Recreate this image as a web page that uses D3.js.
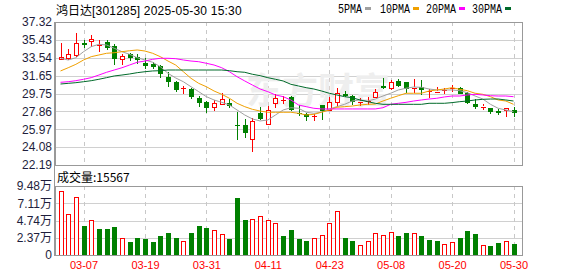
<!DOCTYPE html>
<html>
<head>
<meta charset="utf-8">
<script src="https://cdn.jsdelivr.net/npm/d3@7"></script>
<style>
  body { margin: 0; background: #fff; }
  svg { display: block; }
</style>
</head>
<body>
<div id="chart"></div>
<script>
// data
const dates = ['03-04','03-05','03-06','03-07','03-10','03-11','03-12','03-13','03-14','03-17',
               '03-18','03-19','03-20','03-21','03-24','03-25','03-26','03-27','03-28','03-31',
               '04-01','04-02','04-03','04-07','04-08','04-09','04-10','04-11','04-14','04-15',
               '04-16','04-17','04-18','04-21','04-22','04-23','04-24','04-25','04-28','04-29',
               '04-30','05-06','05-07','05-08','05-09','05-12','05-13','05-14','05-15','05-16',
               '05-19','05-20','05-21','05-22','05-23','05-26','05-27','05-28','05-29','05-30'];

const open = [33.44, 33.44, 33.83, 35.10, 35.28, 34.85, 35.24, 34.81, 33.44, 33.93,
              33.65, 33.01, 32.88, 32.63, 31.53, 30.94, 30.26, 30.23, 29.31, 28.86,
              28.30, 28.61, 28.72, 26.45, 26.42, 25.01, 27.72, 26.53, 28.68, 29.04,
              29.42, 27.77, 27.55, 27.34, 28.51, 28.08, 28.82, 29.67, 29.49, 28.87,
              28.89, 29.42, 30.55, 30.31, 31.08, 30.94, 30.34, 30.41, 29.99, 29.91,
              30.09, 30.26, 30.37, 29.78, 28.64, 28.33, 28.19, 27.90, 27.98, 27.98];
const high = [35.07, 34.46, 36.12, 35.42, 35.94, 35.42, 35.42, 34.99, 33.90, 34.01,
              33.93, 33.48, 33.06, 32.77, 32.06, 31.08, 30.55, 30.31, 29.49, 28.96,
              29.07, 29.78, 29.17, 27.83, 27.06, 27.13, 28.36, 28.43, 29.67, 29.52,
              29.49, 28.54, 27.66, 27.55, 28.54, 29.42, 30.31, 30.02, 29.60, 29.31,
              29.35, 30.20, 31.43, 31.18, 31.29, 31.00, 31.29, 31.18, 30.20, 30.47,
              30.37, 30.65, 30.41, 29.95, 29.17, 28.61, 28.22, 28.12, 28.19, 28.36];
const low = [33.41, 33.33, 33.65, 34.54, 34.71, 34.18, 34.36, 32.77, 32.77, 33.23,
             32.84, 32.38, 32.38, 31.36, 30.47, 29.95, 29.67, 29.17, 28.36, 27.72,
             27.90, 28.51, 28.19, 24.84, 25.05, 23.53, 26.95, 26.42, 28.25, 28.61,
             27.90, 27.41, 26.88, 26.88, 26.95, 28.01, 28.36, 29.42, 28.54, 28.47,
             28.54, 29.31, 30.20, 30.13, 30.41, 29.78, 29.78, 29.60, 29.25, 29.78,
             29.70, 29.95, 29.67, 28.61, 28.12, 28.01, 27.55, 27.48, 27.30, 27.30];
const close = [33.62, 33.90, 35.07, 34.92, 35.52, 34.92, 34.60, 33.48, 33.72, 33.54,
               33.30, 32.70, 32.56, 31.82, 31.00, 30.05, 30.34, 29.35, 28.82, 28.19,
               28.75, 29.14, 28.43, 26.39, 25.61, 26.88, 27.06, 28.01, 29.25, 29.10,
               28.01, 27.69, 27.24, 27.41, 27.83, 28.89, 29.78, 29.49, 28.82, 28.93,
               28.96, 29.95, 30.31, 30.94, 30.55, 30.16, 30.41, 30.05, 30.03, 29.99,
               30.16, 30.34, 29.78, 28.68, 28.36, 28.40, 27.74, 27.70, 28.19, 27.66];
// volume in 万手
const volume = [8.79, 5.59, 7.97, 3.98, 4.76, 3.57, 3.57, 3.85, 2.29, 1.79,
                2.34, 2.20, 1.79, 2.61, 3.02, 2.34, 1.88, 3.02, 3.98, 3.71,
                3.39, 2.84, 2.20, 7.83, 4.81, 4.90, 5.31, 4.76, 4.40, 2.61,
                3.39, 2.20, 1.92, 2.29, 2.70, 4.35, 6.00, 2.34, 1.92, 1.33,
                1.88, 2.98, 2.70, 3.12, 2.61, 3.02, 2.98, 2.61, 2.06, 1.92,
                1.47, 1.74, 2.34, 3.30, 2.88, 1.33, 1.24, 1.65, 1.88, 1.5567];

const ma5 = [33.48, 33.30, 33.54, 34.18, 34.71, 34.96, 34.89, 34.54, 34.18, 33.90,
             33.54, 33.30, 33.06, 32.59, 31.89, 31.40, 31.00, 30.47, 29.95, 29.42,
             29.07, 28.82, 28.54, 28.01, 27.48, 27.06, 26.85, 26.95, 27.48, 28.01,
             28.25, 28.19, 27.77, 27.66, 27.77, 28.12, 28.36, 28.61, 28.96, 29.07,
             28.96, 29.17, 29.49, 29.78, 30.13, 30.31, 30.44, 30.41, 30.23, 30.13,
             30.13, 30.13, 30.05, 29.84, 29.49, 29.17, 28.61, 28.19, 28.01, 27.83];
const ma10 = [32.14, 32.48, 32.84, 33.30, 33.65, 33.83, 34.01, 34.07, 34.18, 34.28,
              34.36, 34.25, 34.01, 33.65, 33.19, 32.77, 32.06, 31.36, 30.83, 30.47,
              30.02, 29.67, 29.25, 28.72, 28.36, 28.08, 27.90, 27.77, 27.77, 27.77,
              27.77, 27.66, 27.48, 27.55, 27.77, 28.01, 28.30, 28.36, 28.43, 28.54,
              28.61, 28.64, 28.96, 29.25, 29.52, 29.78, 29.78, 29.78, 30.02, 30.13,
              30.23, 30.37, 30.20, 30.05, 29.78, 29.67, 29.42, 29.07, 28.96, 28.61];
const ma20 = [30.94, 31.00, 31.11, 31.26, 31.43, 31.71, 32.00, 32.24, 32.48, 32.77,
              33.06, 33.19, 33.37, 33.48, 33.48, 33.44, 33.30, 33.19, 33.12, 32.95,
              32.77, 32.48, 32.06, 31.53, 31.08, 30.65, 30.23, 29.95, 29.60, 29.42,
              29.07, 28.54, 28.36, 28.19, 28.12, 28.12, 28.12, 28.12, 28.12, 28.12,
              28.12, 28.12, 28.25, 28.61, 28.72, 28.82, 28.96, 29.07, 29.17, 29.25,
              29.39, 29.49, 29.49, 29.60, 29.67, 29.60, 29.52, 29.49, 29.49, 29.42];
const ma30 = [30.76, 30.83, 30.90, 31.00, 31.11, 31.26, 31.43, 31.61, 31.71, 31.82,
              31.96, 32.06, 32.14, 32.17, 32.24, 32.24, 32.24, 32.24, 32.24, 32.24,
              32.24, 32.24, 32.17, 32.06, 32.00, 31.79, 31.64, 31.43, 31.26, 31.08,
              30.73, 30.55, 30.37, 30.23, 30.02, 29.78, 29.60, 29.42, 29.31, 29.07,
              28.89, 28.72, 28.61, 28.61, 28.61, 28.61, 28.61, 28.61, 28.72, 28.72,
              28.72, 28.79, 28.89, 28.96, 29.07, 29.14, 29.17, 29.17, 29.07, 28.96];

const priceTicks = [22.19, 24.08, 25.97, 27.86, 29.75, 31.65, 33.54, 35.43, 37.32];
const volTicks = [0, 2.37, 4.74, 7.11, 9.48];
const dateTicks = ['03-07', '03-19', '03-31', '04-11', '04-23', '05-08', '05-20', '05-30'];
const maNames = ['5PMA', '10PMA', '20PMA', '30PMA'];
const maColors = ['#a0a0a0', '#f0a000', '#ff00ff', '#006a2a'];

const stockName = '鸿日达';
const stockInfo = '[301285] 2025-05-30 15:30';
const volTitle = '成交量:15567';

let width = 578;
let height = 276;
let main = {left: 55, right: 522, top: 22, bottom: 165};
let vol = {top: 186, bottom: 255};
const up = '#ff0000';
const down = '#008000';
const labelFont = '"Liberation Sans", Arial, sans-serif';
const cjkFont = '"Noto Sans CJK SC", sans-serif';

let svg = d3.select('#chart').append('svg')
    .attr('width', width)
    .attr('height', height);

let x = d3.scalePoint()
    .domain(dates)
    .range([60.5, 513.5]);
let y = d3.scaleLinear()
    .domain([priceTicks[0], priceTicks[priceTicks.length - 1]])
    .range([main.bottom, main.top]);
let yv = d3.scaleLinear()
    .domain([0, volTicks[volTicks.length - 1]])
    .range([vol.bottom, vol.top]);

let px = v => Math.round(v) + 0.5;

// grids
let grid = svg.append('g').attr('shape-rendering', 'crispEdges');
grid.selectAll('line.hp')
    .data(priceTicks.slice(1, -1))
    .join('line')
    .attr('x1', main.left).attr('x2', main.right)
    .attr('y1', d => px(y(d))).attr('y2', d => px(y(d)))
    .attr('stroke', '#d0d0d0');
grid.selectAll('line.hv')
    .data(volTicks.slice(1, -1))
    .join('line')
    .attr('class', 'hv')
    .attr('x1', main.left).attr('x2', main.right)
    .attr('y1', d => px(yv(d))).attr('y2', d => px(yv(d)))
    .attr('stroke', '#d0d0d0');
[[main.top, main.bottom], [vol.top, vol.bottom]].forEach(([t, b]) => {
    grid.append('g').selectAll('line')
        .data(dateTicks)
        .join('line')
        .attr('x1', d => px(x(d))).attr('x2', d => px(x(d)))
        .attr('y1', t).attr('y2', b)
        .attr('stroke', '#c8c8c8')
        .attr('stroke-dasharray', '4,4');
});

// watermark
svg.append('text')
    .attr('x', 318).attr('y', 104)
    .attr('text-anchor', 'middle')
    .attr('font-family', cjkFont)
    .attr('font-size', 36)
    .attr('font-weight', 'bold')
    .attr('fill', '#eeeeee')
    .text('东方财富');

// candles
let candles = svg.append('g').attr('shape-rendering', 'crispEdges');
dates.forEach((d, i) => {
    let cx = Math.round(x(d));
    let rising = close[i] >= open[i];
    let color = rising ? up : down;
    let top = y(Math.max(open[i], close[i]));
    let bot = y(Math.min(open[i], close[i]));
    candles.append('line')
        .attr('x1', cx + 0.5).attr('x2', cx + 0.5)
        .attr('y1', y(high[i])).attr('y2', rising ? top : y(low[i]))
        .attr('stroke', color);
    if (rising) {
        candles.append('line')
            .attr('x1', cx + 0.5).attr('x2', cx + 0.5)
            .attr('y1', bot).attr('y2', y(low[i]))
            .attr('stroke', color);
    }
    if (bot - top < 1.5) {
        candles.append('line')
            .attr('x1', cx - 2).attr('x2', cx + 3)
            .attr('y1', px((top + bot) / 2)).attr('y2', px((top + bot) / 2))
            .attr('stroke', color);
    } else if (rising) {
        candles.append('rect')
            .attr('x', cx - 1.5).attr('y', Math.round(top) + 0.5)
            .attr('width', 4).attr('height', Math.round(bot - top))
            .attr('fill', '#fff').attr('stroke', color);
    } else {
        candles.append('rect')
            .attr('x', cx - 2).attr('y', Math.round(top))
            .attr('width', 5).attr('height', Math.round(bot - top))
            .attr('fill', color);
    }
});

// moving averages
let maData = [ma5, ma10, ma20, ma30];
let line = d3.line()
    .x((d, i) => x(dates[i]))
    .y(d => y(d));
maData.forEach((arr, k) => {
    svg.append('path')
        .attr('d', line(arr))
        .attr('fill', 'none')
        .attr('stroke', maColors[k])
        .attr('stroke-width', 1);
});

// volume bars (colour by change against previous close)
let bars = svg.append('g').attr('shape-rendering', 'crispEdges');
dates.forEach((d, i) => {
    let cx = Math.round(x(d));
    let rising = i === 0 ? close[i] >= open[i] : close[i] >= close[i - 1];
    let top = yv(volume[i]);
    if (rising) {
        bars.append('rect')
            .attr('x', cx - 1.5).attr('y', Math.round(top) + 0.5)
            .attr('width', 4).attr('height', Math.round(vol.bottom - top) - 0.5)
            .attr('fill', '#fff').attr('stroke', up);
    } else {
        bars.append('rect')
            .attr('x', cx - 2).attr('y', Math.round(top))
            .attr('width', 5).attr('height', vol.bottom - Math.round(top))
            .attr('fill', down);
    }
});

// frames
let frame = svg.append('g').attr('shape-rendering', 'crispEdges')
    .attr('fill', 'none').attr('stroke', '#999');
frame.append('rect')
    .attr('x', main.left + 0.5).attr('y', main.top + 0.5)
    .attr('width', main.right - main.left).attr('height', main.bottom - main.top);
frame.append('rect')
    .attr('x', main.left + 0.5).attr('y', vol.top + 0.5)
    .attr('width', main.right - main.left).attr('height', vol.bottom - vol.top);
frame.append('line')
    .attr('x1', main.left - 0.5).attr('x2', main.left - 0.5)
    .attr('y1', main.top).attr('y2', vol.bottom + 1);

// axes
let yAxis = svg.append('g')
    .attr('transform', `translate(${main.left},0)`)
    .call(d3.axisLeft(y).tickValues(priceTicks).tickSize(0).tickPadding(3)
        .tickFormat(d3.format('.2f')));
let vAxis = svg.append('g')
    .attr('transform', `translate(${main.left},0)`)
    .call(d3.axisLeft(yv).tickValues(volTicks).tickSize(0).tickPadding(3)
        .tickFormat(d => d === 0 ? '0' : d3.format('.2f')(d) + '万'));
let xAxis = svg.append('g')
    .attr('transform', `translate(0,${vol.bottom})`)
    .call(d3.axisBottom(x).tickValues(dateTicks).tickSize(0).tickPadding(6));

[yAxis, vAxis, xAxis].forEach(a => {
    a.select('.domain').remove();
    a.selectAll('text')
        .attr('font-family', labelFont)
        .attr('font-size', 12)
        .attr('fill', '#1e1e3c');
});
vAxis.selectAll('text').attr('font-family', `${labelFont.split(',')[0]}, ${cjkFont}`);
xAxis.selectAll('text')
    .attr('font-size', 11)
    .attr('fill', '#ff0000');

// titles
svg.append('text')
    .attr('x', 56).attr('y', 15)
    .attr('font-family', cjkFont)
    .attr('font-size', 12)
    .attr('fill', '#000')
    .text(stockName);
svg.append('text')
    .attr('x', 92).attr('y', 15)
    .attr('font-family', labelFont)
    .attr('font-size', 12)
    .attr('letter-spacing', 0.2)
    .attr('fill', '#000')
    .text(stockInfo);
svg.append('text')
    .attr('x', 57).attr('y', 182)
    .attr('font-family', cjkFont)
    .attr('font-size', 12)
    .attr('fill', '#000')
    .text(volTitle);

// legend
let legendX = [338, 380, 426, 472];
let legend = svg.append('g');
maNames.forEach((name, k) => {
    legend.append('text')
        .attr('x', legendX[k]).attr('y', 13)
        .attr('font-family', '"Liberation Mono", monospace')
        .attr('font-size', 12)
        .attr('textLength', name.length * 6)
        .attr('lengthAdjust', 'spacingAndGlyphs')
        .attr('fill', '#000')
        .text(name);
    legend.append('rect')
        .attr('x', legendX[k] + name.length * 6 + 3).attr('y', 7)
        .attr('width', 6).attr('height', 3)
        .attr('fill', maColors[k]);
});
</script>
</body>
</html>
